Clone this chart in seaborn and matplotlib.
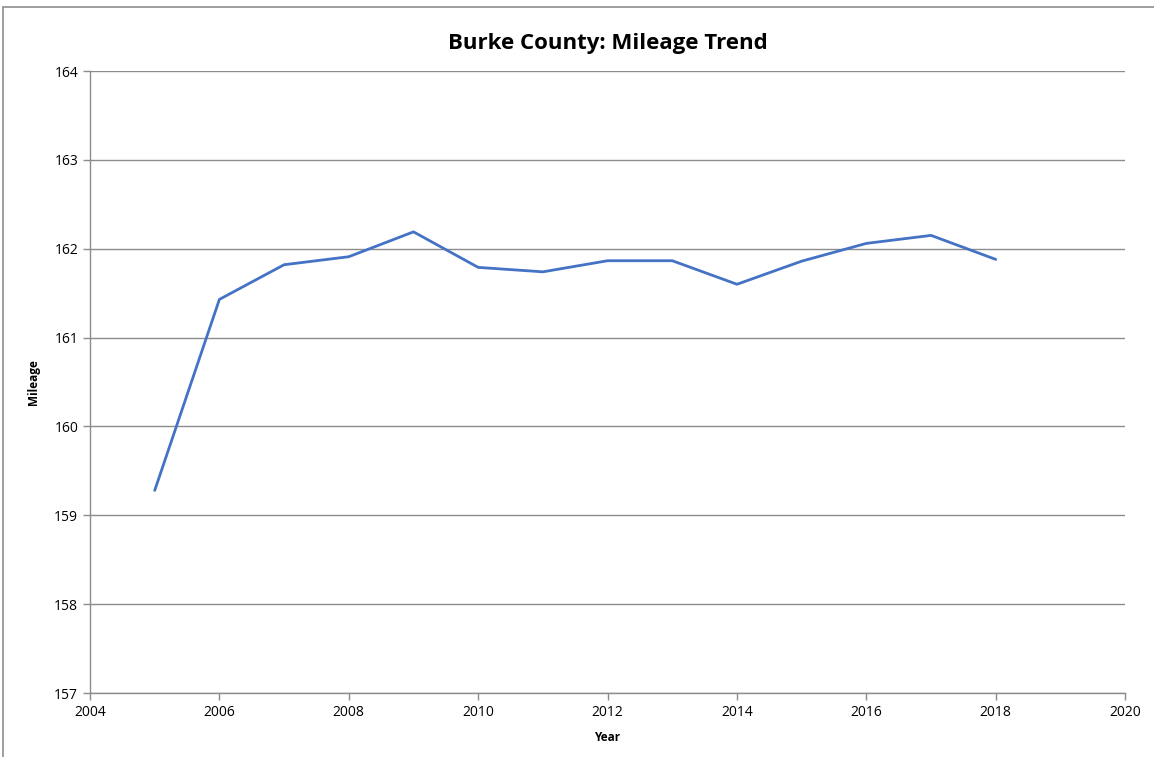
import pandas as pd
import matplotlib.pyplot as plt
import seaborn as sns
from matplotlib.patches import Rectangle

# data
years = [2005, 2006, 2007, 2008, 2009, 2010, 2011, 2012, 2013, 2014, 2015, 2016, 2017, 2018]
mileage = [159.28, 161.43, 161.82, 161.91, 162.19, 161.79, 161.74, 161.865, 161.865, 161.60, 161.86, 162.06, 162.15, 161.88]

df = pd.DataFrame({'Year': years, 'Mileage': mileage})

sns.set_style('white')
plt.rcParams['font.family'] = ['Open Sans', 'DejaVu Sans']
plt.rcParams['text.color'] = 'black'
plt.rcParams['axes.labelcolor'] = 'black'

fig = plt.figure(figsize=(11.54, 7.57), dpi=100)
ax = fig.add_axes([0.078, 0.0845, 0.897, 0.8217])

sns.lineplot(data=df, x='Year', y='Mileage', ax=ax, color='#4472C4', linewidth=2)

ax.set_xlim(2004, 2020)
ax.set_ylim(157, 164)
ax.set_xticks(range(2004, 2021, 2))
ax.set_yticks(range(157, 165))
ax.grid(True, axis='y', color='#8c8c8c', linewidth=1)
ax.set_axisbelow(True)

for s in ['top', 'right']:
    ax.spines[s].set_visible(False)
for s in ['left', 'bottom']:
    ax.spines[s].set_color('#8c8c8c')
    ax.spines[s].set_linewidth(1)
ax.tick_params(axis='both', direction='out', length=5, width=1, color='#8c8c8c',
               labelsize=10, labelcolor='black', bottom=True, left=True)

ax.set_title('Burke County: Mileage Trend', fontsize=16, fontweight='bold', pad=16, color='black')
ax.set_xlabel('Year', fontsize=8.5, fontweight='bold', labelpad=8)
ax.set_ylabel('Mileage', fontsize=8.5, fontweight='bold', labelpad=10)

# outer chart border
fig.patches.append(Rectangle((3 / 1154, -0.01), 1.2, 1 - 7 / 757 + 0.01, transform=fig.transFigure,
                             fill=False, edgecolor='#8c8c8c', linewidth=1.2))

fig.savefig('out.png', dpi=100)
